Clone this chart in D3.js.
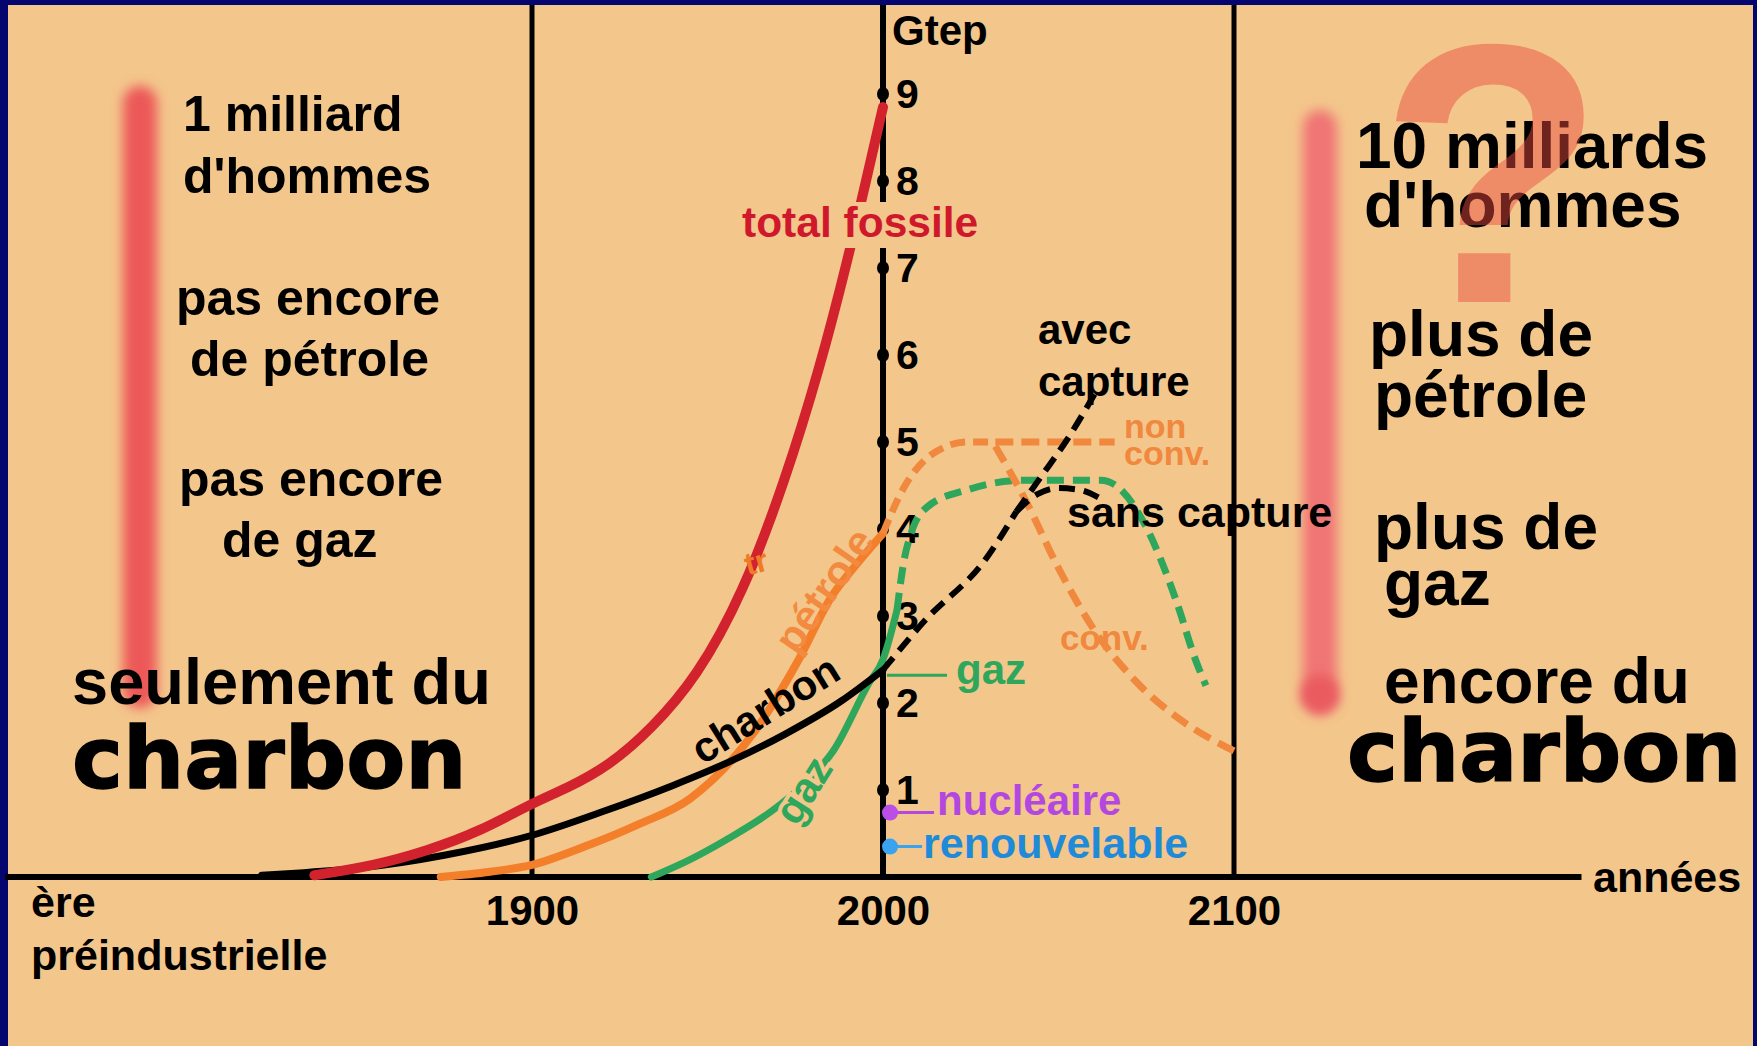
<!DOCTYPE html>
<html>
<head>
<meta charset="utf-8">
<script src="https://cdn.jsdelivr.net/npm/d3@7"></script>
<style>
  html, body { margin: 0; padding: 0; background: #050570; }
  svg { display: block; }
</style>
</head>
<body>
<svg id="chart" width="1757" height="1046" font-family="Liberation Sans, Arial, sans-serif" font-weight="bold"></svg>
<script>
// ---- data (year, Gtep) ----
var totalFossile = [[1838, 0.02], [1855, 0.13], [1870, 0.3], [1885, 0.52], [1900, 0.85], [1910, 1.02],
  [1922, 1.28], [1934, 1.7], [1947, 2.3], [1960, 3.25], [1972, 4.54], [1982, 5.85],
  [1990, 7.1], [1996, 8.15], [2000, 8.85]];
var charbon = [[1823, 0.02], [1835, 0.05], [1850, 0.1], [1875, 0.25], [1900, 0.48], [1920, 0.75],
  [1940, 1.05], [1956, 1.32], [1972, 1.64], [1988, 2.02], [2000, 2.38]];
var charbonProj = [[2000, 2.38], [2012, 2.95], [2029, 3.64], [2038, 4.2]];
var charbonSansCapture = [[2038, 4.2], [2044, 4.4], [2050, 4.47], [2056, 4.45], [2062, 4.35]];
var charbonAvecCapture = [[2038, 4.2], [2045, 4.6], [2052, 5.0], [2061, 5.6]];
var petrole = [[1874, 0], [1888, 0.06], [1900, 0.14], [1915, 0.35], [1930, 0.6], [1945, 0.9],
  [1963, 1.65], [1976, 2.5], [1985, 3.2], [1993, 3.62], [2000, 3.95]];
var petroleProj = [[2000, 3.95], [2006, 4.48], [2014, 4.86], [2024, 5.0], [2032, 5.0]];
var petroleNonConv = [[2032, 5.0], [2045, 5.0], [2066, 5.0]];
var petroleConv = [[2032, 4.95], [2041, 4.3], [2050, 3.55], [2060, 2.85], [2072, 2.25], [2085, 1.8], [2100, 1.45]];
var gaz = [[1934, 0], [1945, 0.2], [1955, 0.42], [1968, 0.75], [1977, 1.05], [1986, 1.46],
  [1996, 2.23], [2000, 2.5], [2004, 3.07]];
var gazProj = [[2004, 3.07], [2006, 3.64], [2008, 3.95], [2012.5, 4.25], [2024, 4.45], [2040, 4.56],
  [2062, 4.56], [2067, 4.48], [2075, 4.02], [2083.5, 3.18], [2089, 2.5], [2092, 2.2]];
var gazNow = [2000, 2.32];
var nucleaire = [2002, 0.74];
var renouvelable = [2002, 0.35];

var yTicks = [1, 2, 3, 4, 5, 6, 7, 8, 9];
var xTicks = [1900, 2000, 2100];
var axisYears = [1750, 2199];

var leftTexts = ["1 milliard", "d'hommes", "pas encore", "de pétrole", "pas encore", "de gaz"];
var rightTexts = ["10 milliards", "d'hommes", "plus de", "pétrole", "plus de", "gaz", "encore du"];

// ---- colours ----
var bg = "#f3c68c";
var cRed = "#d2232e", cOrange = "#f47f2c", cOrangeDash = "#f0883e", cGreen = "#2ea65c",
  cPurple = "#b348e0", cBlue = "#1f8ad8";

var svg = d3.select("#chart");
var W = 1757, H = 1046;

svg.append("rect").attr("width", W).attr("height", H).attr("fill", "#050570");
svg.append("rect").attr("x", 8).attr("y", 5).attr("width", 1745).attr("height", H - 5).attr("fill", bg);

var defs = svg.append("defs");
defs.append("filter").attr("id", "blurBar").attr("filterUnits", "userSpaceOnUse")
  .attr("x", 0).attr("y", 0).attr("width", W).attr("height", H)
  .append("feGaussianBlur").attr("stdDeviation", 6);
defs.append("filter").attr("id", "soft").attr("filterUnits", "userSpaceOnUse")
  .attr("x", 0).attr("y", 0).attr("width", W).attr("height", H)
  .append("feGaussianBlur").attr("stdDeviation", 0.7);

var xScale = d3.scaleLinear().domain([1900, 2100]).range([532, 1234]);
var yScale = d3.scaleLinear().domain([0, 9]).range([877, 94]);
var panelTop = 5;

// blurred red bars
svg.append("rect").attr("x", 123).attr("y", 86).attr("width", 34).attr("height", 622).attr("rx", 17)
  .attr("fill", "#ec5858").attr("filter", "url(#blurBar)");
svg.append("rect").attr("x", 1303).attr("y", 110).attr("width", 34).attr("height", 604).attr("rx", 17)
  .attr("fill", "#f07474").attr("filter", "url(#blurBar)");
svg.append("circle").attr("cx", 1320).attr("cy", 694).attr("r", 19)
  .attr("fill", "#ea5a5e").attr("filter", "url(#blurBar)");

// vertical reference lines and x axis
[1900, 2100].forEach(function (yr) {
  svg.append("line").attr("x1", xScale(yr)).attr("x2", xScale(yr)).attr("y1", panelTop).attr("y2", yScale(0))
    .attr("stroke", "#000").attr("stroke-width", 5);
});
svg.append("line").attr("x1", xScale(axisYears[0])).attr("x2", xScale(axisYears[1]))
  .attr("y1", yScale(0)).attr("y2", yScale(0)).attr("stroke", "#000").attr("stroke-width", 6);

// y axis at year 2000
var yAxis = d3.axisRight(yScale).tickValues(yTicks).tickSize(0).tickPadding(13);
var gy = svg.append("g").attr("transform", "translate(" + xScale(2000) + ",0)").call(yAxis);
gy.select(".domain").remove();
gy.selectAll("text").attr("font-size", 41).attr("font-family", null).attr("fill", "#000");
svg.append("line").attr("x1", xScale(2000)).attr("x2", xScale(2000)).attr("y1", panelTop).attr("y2", yScale(0))
  .attr("stroke", "#000").attr("stroke-width", 6);
svg.selectAll(".tickDot").data(yTicks).enter().append("ellipse")
  .attr("cx", xScale(2000)).attr("cy", function (d) { return yScale(d); })
  .attr("rx", 6).attr("ry", 7).attr("fill", "#000");
svg.append("text").attr("x", xScale(2000) + 9).attr("y", 45).attr("font-size", 42).text("Gtep");

// x tick labels
var xAxis = d3.axisBottom(xScale).tickValues(xTicks).tickSize(0).tickPadding(18).tickFormat(d3.format("d"));
var gx = svg.append("g").attr("transform", "translate(0," + yScale(0) + ")").call(xAxis);
gx.select(".domain").remove();
gx.selectAll("text").attr("font-size", 42).attr("font-family", null).attr("fill", "#000");

// curves
function makeLine(curve) {
  return d3.line().x(function (d) { return xScale(d[0]); }).y(function (d) { return yScale(d[1]); })
    .curve(curve || d3.curveMonotoneX);
}

function drawCurve(data, color, width, dash, curve) {
  svg.append("path").datum(data).attr("d", makeLine(curve)).attr("fill", "none")
    .attr("stroke", color).attr("stroke-width", width).attr("stroke-linecap", dash ? "butt" : "round")
    .attr("stroke-dasharray", dash || null).attr("filter", "url(#soft)");
}

drawCurve(gaz, cGreen, 7);
drawCurve(gazProj, cGreen, 7, "17,9");
drawCurve(petrole, cOrange, 8);
drawCurve(petroleProj, cOrangeDash, 7, "15,8");
drawCurve(petroleNonConv, cOrangeDash, 7, "18,8");
drawCurve(petroleConv, cOrangeDash, 7, "18,9");
drawCurve(charbon, "#000", 7);
drawCurve(charbonProj, "#000", 6, "16,9");
drawCurve(charbonSansCapture, "#000", 6, "16,9");
drawCurve(charbonAvecCapture, "#000", 6, "16,9");
drawCurve(totalFossile, cRed, 10, null, d3.curveBasis);

// gaz pointer
svg.append("line").attr("x1", xScale(gazNow[0]) + 4).attr("x2", xScale(gazNow[0]) + 64)
  .attr("y1", yScale(gazNow[1])).attr("y2", yScale(gazNow[1]))
  .attr("stroke", cGreen).attr("stroke-width", 3);
svg.append("text").attr("x", xScale(gazNow[0]) + 73).attr("y", yScale(gazNow[1]) + 9)
  .attr("font-size", 42).attr("fill", cGreen).text("gaz");

// nucléaire / renouvelable
svg.append("line").attr("x1", xScale(nucleaire[0])).attr("x2", xScale(nucleaire[0]) + 44)
  .attr("y1", yScale(nucleaire[1])).attr("y2", yScale(nucleaire[1])).attr("stroke", cPurple).attr("stroke-width", 3);
svg.append("circle").attr("cx", xScale(nucleaire[0])).attr("cy", yScale(nucleaire[1])).attr("r", 8).attr("fill", "#bb4ee6");
svg.append("text").attr("x", xScale(nucleaire[0]) + 47).attr("y", yScale(nucleaire[1]) + 2)
  .attr("font-size", 42).attr("fill", cPurple).text("nucléaire");
svg.append("line").attr("x1", xScale(renouvelable[0])).attr("x2", xScale(renouvelable[0]) + 32)
  .attr("y1", yScale(renouvelable[1])).attr("y2", yScale(renouvelable[1])).attr("stroke", "#3aa2ee").attr("stroke-width", 3);
svg.append("circle").attr("cx", xScale(renouvelable[0])).attr("cy", yScale(renouvelable[1])).attr("r", 8).attr("fill", "#3aa2ee");
svg.append("text").attr("x", xScale(renouvelable[0]) + 33).attr("y", yScale(renouvelable[1]) + 11)
  .attr("font-size", 43).attr("fill", cBlue).text("renouvelable");

// total fossile label with background box
var tf = svg.append("text").attr("x", 742).attr("y", 237).attr("font-size", 42.5).attr("fill", "#d0182c").text("total fossile");
var bb = tf.node().getBBox();
svg.insert("rect", function () { return tf.node(); })
  .attr("x", bb.x - 4).attr("y", bb.y + 3).attr("width", bb.width + 10).attr("height", bb.height - 1).attr("fill", bg);

// rotated labels on curves
function rotLabel(str, cx, cy, angle, size, color, halo) {
  var t = svg.append("text").attr("transform", "translate(" + cx + "," + cy + ") rotate(" + angle + ")")
    .attr("text-anchor", "middle").attr("dy", "0.35em").attr("font-size", size).attr("fill", color).text(str);
  if (halo) t.attr("stroke", bg).attr("stroke-width", 8).attr("paint-order", "stroke");
  return t;
}
rotLabel("charbon", 765, 709, -32, 42, "#000");
rotLabel("pétrole", 824, 590, -55, 42, "#f28a40");
rotLabel("gaz", 803, 790, -58, 42, cGreen, true);
rotLabel("tr", 756, 562, -15, 32, "#f07a28");

// right-side curve notes
function txt(str, x, y, size, color, family) {
  var t = svg.append("text").attr("x", x).attr("y", y).attr("font-size", size)
    .attr("fill", color || "#000").text(str);
  if (family) t.style("font-family", family);
  return t;
}
txt("avec", 1038, 344, 42);
txt("capture", 1038, 396, 42);
txt("non", 1124, 438, 34, cOrangeDash);
txt("conv.", 1124, 465, 34, cOrangeDash);
txt("sans capture", 1067, 527, 43);
txt("conv.", 1060, 650, 35, cOrangeDash);

// axis captions
txt("années", 1593, 892, 43);
txt("ère", 31, 917, 43);
txt("préindustrielle", 31, 970, 43);

// left block
txt(leftTexts[0], 183, 131, 50);
txt(leftTexts[1], 183, 193, 50);
txt(leftTexts[2], 176, 315, 50);
txt(leftTexts[3], 190, 376, 50);
txt(leftTexts[4], 179, 496, 50);
txt(leftTexts[5], 222, 557, 50);
txt("seulement du", 72, 704, 65);
txt("charbon", 72, 788, 86, "#000", "DejaVu Sans").attr("stroke", "#000").attr("stroke-width", 1.5);

// right block
txt(rightTexts[0], 1356, 168, 64);
txt(rightTexts[1], 1364, 227, 64);
txt(rightTexts[2], 1369, 356, 64);
txt(rightTexts[3], 1374, 417, 64);
txt(rightTexts[4], 1374, 549, 64);
txt(rightTexts[5], 1384, 605, 64);
txt(rightTexts[6], 1384, 703, 64);
txt("charbon", 1347, 781, 86, "#000", "DejaVu Sans").attr("stroke", "#000").attr("stroke-width", 1.5);

// big translucent question mark over the right block
svg.append("text").attr("x", 1492).attr("y", 302).attr("text-anchor", "middle")
  .attr("font-size", 370).attr("fill", "rgb(234,74,64)").attr("fill-opacity", 0.47).text("?");
</script>
</body>
</html>
